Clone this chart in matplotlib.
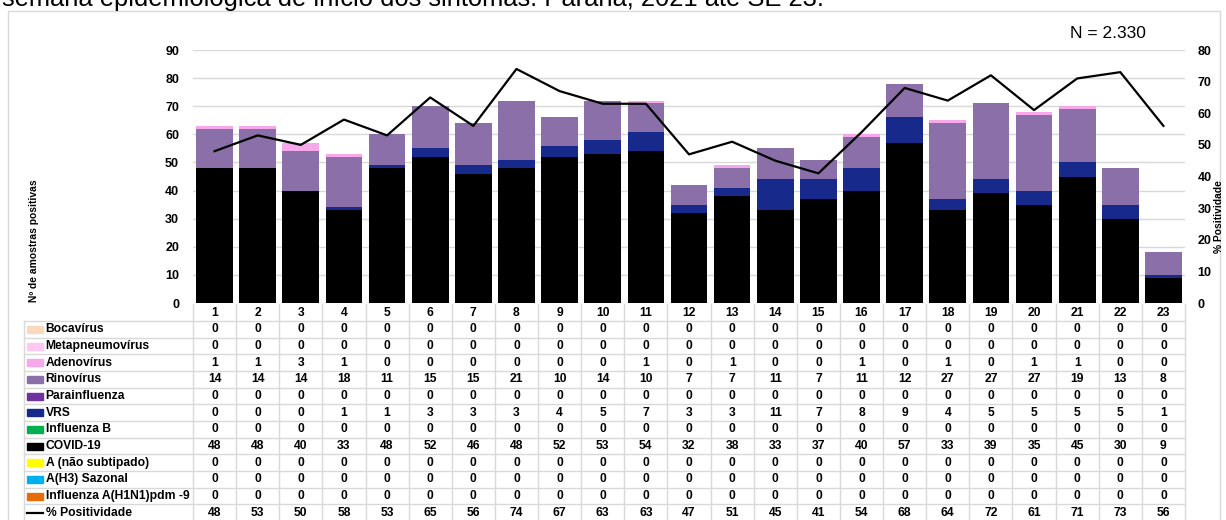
import matplotlib.pyplot as plt
from matplotlib.patches import Rectangle
from matplotlib.lines import Line2D

plt.rcParams['font.family'] = ['Liberation Sans', 'DejaVu Sans']

# Dados por semana epidemiológica (SE)
semanas = [str(i) for i in range(1, 24)]

influenza_h1n1 = [0, 0, 0, 0, 0, 0, 0, 0, 0, 0, 0, 0, 0, 0, 0, 0, 0, 0, 0, 0, 0, 0, 0]
h3_sazonal = [0, 0, 0, 0, 0, 0, 0, 0, 0, 0, 0, 0, 0, 0, 0, 0, 0, 0, 0, 0, 0, 0, 0]
a_nao_subtipado = [0, 0, 0, 0, 0, 0, 0, 0, 0, 0, 0, 0, 0, 0, 0, 0, 0, 0, 0, 0, 0, 0, 0]
covid19 = [48, 48, 40, 33, 48, 52, 46, 48, 52, 53, 54, 32, 38, 33, 37, 40, 57, 33, 39, 35, 45, 30, 9]
influenza_b = [0, 0, 0, 0, 0, 0, 0, 0, 0, 0, 0, 0, 0, 0, 0, 0, 0, 0, 0, 0, 0, 0, 0]
vrs = [0, 0, 0, 1, 1, 3, 3, 3, 4, 5, 7, 3, 3, 11, 7, 8, 9, 4, 5, 5, 5, 5, 1]
parainfluenza = [0, 0, 0, 0, 0, 0, 0, 0, 0, 0, 0, 0, 0, 0, 0, 0, 0, 0, 0, 0, 0, 0, 0]
rinovirus = [14, 14, 14, 18, 11, 15, 15, 21, 10, 14, 10, 7, 7, 11, 7, 11, 12, 27, 27, 27, 19, 13, 8]
adenovirus = [1, 1, 3, 1, 0, 0, 0, 0, 0, 0, 1, 0, 1, 0, 0, 1, 0, 1, 0, 1, 1, 0, 0]
metapneumovirus = [0, 0, 0, 0, 0, 0, 0, 0, 0, 0, 0, 0, 0, 0, 0, 0, 0, 0, 0, 0, 0, 0, 0]
bocavirus = [0, 0, 0, 0, 0, 0, 0, 0, 0, 0, 0, 0, 0, 0, 0, 0, 0, 0, 0, 0, 0, 0, 0]
positividade = [48, 53, 50, 58, 53, 65, 56, 74, 67, 63, 63, 47, 51, 45, 41, 54, 68, 64, 72, 61, 71, 73, 56]

# ordem de empilhamento (de baixo para cima)
series = [
    ('Influenza A(H1N1)pdm -9', influenza_h1n1, '#E46C0A'),
    ('A(H3) Sazonal', h3_sazonal, '#00B0F0'),
    ('A (não subtipado)', a_nao_subtipado, '#FFFF00'),
    ('COVID-19', covid19, '#000000'),
    ('Influenza B', influenza_b, '#00B050'),
    ('VRS', vrs, '#17298A'),
    ('Parainfluenza', parainfluenza, '#7030A0'),
    ('Rinovírus', rinovirus, '#8B6FA8'),
    ('Adenovírus', adenovirus, '#F7A8EA'),
    ('Metapneumovírus', metapneumovirus, '#FFC8F2'),
    ('Bocavírus', bocavirus, '#FBD9BE'),
]

W, H = 1226, 520
fig = plt.figure(figsize=(W / 100, H / 100), dpi=100)


def fx(px):
    return px / W


def fy(py):
    return 1 - py / H


grid_col = '#D9D9D9'
x_left, x_right = 193, 1185
y_top, y_bot = 50, 303

ax = fig.add_axes([fx(x_left), fy(y_bot), fx(x_right - x_left), (y_bot - y_top) / H])
x = list(range(len(semanas)))
bottom = [0] * len(semanas)
for nome, vals, cor in series:
    ax.bar(x, vals, bottom=bottom, width=0.85, color=cor, zorder=2)
    bottom = [b + v for b, v in zip(bottom, vals)]

ax.set_xlim(-0.5, len(semanas) - 0.5)
ax.set_ylim(0, 90)
ax.set_yticks(range(0, 91, 10))
ax.set_xticks([])
ax.yaxis.grid(True, color=grid_col, linewidth=1)
ax.set_axisbelow(True)
for s in ax.spines.values():
    s.set_visible(False)
ax.tick_params(axis='y', length=0, pad=10, labelsize=9)
for t in ax.get_yticklabels():
    t.set_fontweight('bold')

ax2 = ax.twinx()
ax2.plot(x, positividade, color='black', linewidth=1.6, zorder=3)
ax2.set_ylim(0, 80)
ax2.set_yticks(range(0, 81, 10))
for s in ax2.spines.values():
    s.set_visible(False)
ax2.tick_params(axis='y', length=0, pad=9, labelsize=9)
for t in ax2.get_yticklabels():
    t.set_fontweight('bold')

# moldura e textos
fig.patches.append(Rectangle((fx(8), fy(530)), fx(1212), (530 - 11) / H,
                             transform=fig.transFigure, fill=False,
                             edgecolor=grid_col, linewidth=1))
fig.text(fx(2), fy(6), 'semana epidemiológica de início dos sintomas. Paraná, 2021 até SE 23.',
         fontsize=18.4, va='baseline', ha='left')
fig.text(fx(1108), fy(34), 'N = 2.330', fontsize=12.5, ha='center', va='center')
fig.text(fx(34), fy(241), 'Nº de amostras positivas', rotation=90, fontsize=7.4,
         fontweight='bold', ha='center', va='center')
fig.text(fx(1219.5), fy(217), '% Positividade', rotation=90, fontsize=7.4,
         fontweight='bold', ha='center', va='center')

# tabela de dados
col_w = (x_right - x_left) / len(semanas)
lab_left = 24
hdr_top, row_top, row_h = 304, 321, 16.67
fs = 8.7


def hline(y, x0, x1):
    fig.add_artist(Line2D([fx(x0), fx(x1)], [fy(y), fy(y)], color=grid_col, linewidth=1))


def vline(xp, y0, y1):
    fig.add_artist(Line2D([fx(xp), fx(xp)], [fy(y0), fy(y1)], color=grid_col, linewidth=1))


for i, s in enumerate(semanas):
    fig.text(fx(x_left + (i + 0.5) * col_w), fy((hdr_top + row_top) / 2), s,
             fontsize=fs, fontweight='bold', ha='center', va='center')
for i in range(len(semanas) + 1):
    vline(x_left + i * col_w, hdr_top, H)
hline(row_top, lab_left, x_right)
vline(lab_left, row_top, H)

linhas = list(reversed(series)) + [('% Positividade', positividade, None)]
for r, (nome, vals, cor) in enumerate(linhas):
    yc = row_top + (r + 0.5) * row_h
    hline(row_top + (r + 1) * row_h, lab_left, x_right)
    if cor is not None:
        fig.patches.append(Rectangle((fx(27), fy(yc + 3.5)), fx(16), 7 / H,
                                     transform=fig.transFigure, color=cor))
    else:
        fig.add_artist(Line2D([fx(27), fx(43)], [fy(yc), fy(yc)], color='black', linewidth=1.6))
    fig.text(fx(45.5), fy(yc), nome, fontsize=fs, fontweight='bold', ha='left', va='center')
    for i, v in enumerate(vals):
        fig.text(fx(x_left + (i + 0.5) * col_w), fy(yc), str(v), fontsize=fs,
                 fontweight='bold', ha='center', va='center')

fig.savefig('out.png', dpi=100)
